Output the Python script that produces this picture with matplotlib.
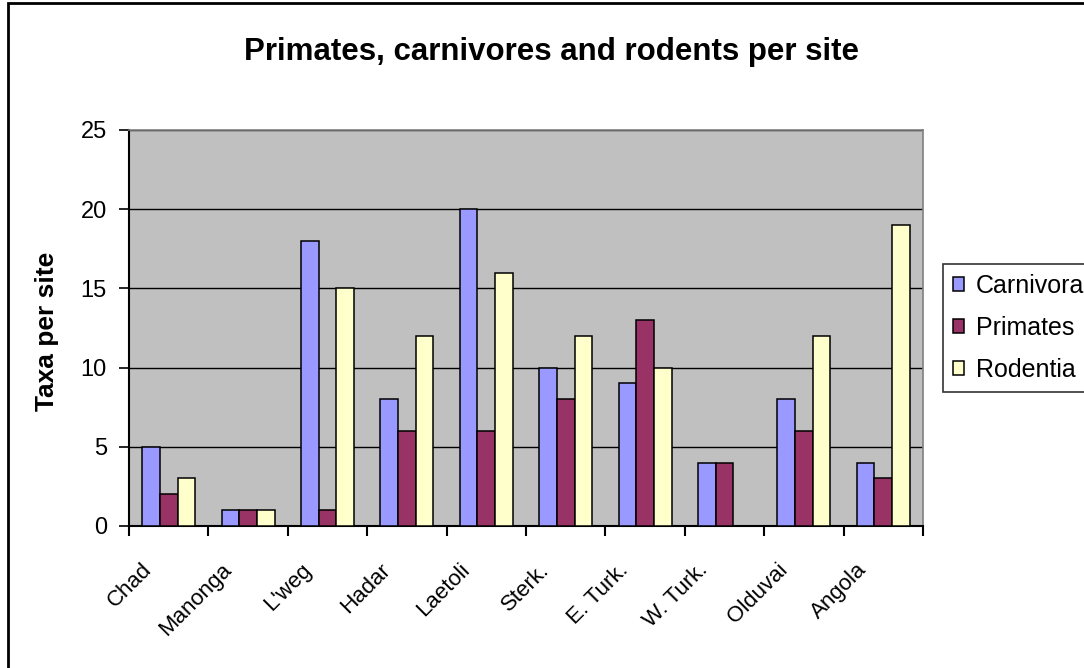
import matplotlib.pyplot as plt
import numpy as np
from matplotlib.patches import Rectangle
from matplotlib.ticker import MultipleLocator

''' ----- Taxa counts per fossil site ----- '''

sites = ['Chad', 'Manonga', "L'weg", 'Hadar', 'Laetoli', 'Sterk.',
         'E. Turk.', 'W. Turk.', 'Olduvai', 'Angola']
carnivora = [5, 1, 18, 8, 20, 10, 9, 4, 8, 4]
primates = [2, 1, 1, 6, 6, 8, 13, 4, 6, 3]
rodentia = [3, 1, 15, 12, 16, 12, 10, 0, 12, 19]

series = [('Carnivora', carnivora, '#9999FF'),
          ('Primates', primates, '#993366'),
          ('Rodentia', rodentia, '#FFFFCC')]

plt.rcParams['font.family'] = ['Liberation Sans', 'DejaVu Sans']

fig = plt.figure(figsize=(10.84, 6.68), dpi=100)
W, H = 1084, 668
ax = fig.add_axes([129 / W, 1 - 526 / H, (923 - 129) / W, (526 - 130) / H])
ax.set_facecolor('#C0C0C0')

x = np.arange(len(sites))
w = 1 / 4.5
handles = []
for k, (name, vals, col) in enumerate(series):
  b = ax.bar(x + (k - 1) * w, vals, w, color=col, edgecolor='black',
             linewidth=1.1, label=name, zorder=3)
  handles.append(b)

ax.set_xlim(-0.5, len(sites) - 0.5)
ax.set_ylim(0, 25)
ax.yaxis.set_major_locator(MultipleLocator(5))
ax.grid(axis='y', color='black', linewidth=1, zorder=1)
ax.set_axisbelow(True)

# category boundary ticks, labels sit under each group
ax.set_xticks(np.arange(-0.5, len(sites), 1.0), minor=True)
ax.set_xticks(x - 0.34)
ax.set_xticklabels(sites, rotation=45, ha='right', va='top',
                   rotation_mode='anchor', fontsize=16)
ax.tick_params(axis='x', which='major', length=0, pad=24)
ax.tick_params(axis='x', which='minor', length=7, width=1.5, color='black')
ax.tick_params(axis='y', length=7, width=1.2, pad=9, labelsize=17)

for s in ['top', 'right']:
  ax.spines[s].set_color('#808080')
  ax.spines[s].set_linewidth(1.2)
for s in ['left', 'bottom']:
  ax.spines[s].set_color('black')
  ax.spines[s].set_linewidth(1.5)

fig.text(552 / W, 1 - 60 / H, 'Primates, carnivores and rodents per site',
         ha='center', va='baseline', fontsize=22.5, fontweight='bold')
fig.text(47 / W, 1 - 331 / H, 'Taxa per site', rotation=90,
         ha='center', va='center', fontsize=19, fontweight='bold')

leg = fig.legend(handles=handles, loc='upper left',
                 bbox_to_anchor=(943 / W, 1 - 264 / H), fontsize=18,
                 frameon=True, fancybox=False, borderaxespad=0,
                 handlelength=0.45, handleheight=0.45, handletextpad=0.45,
                 labelspacing=0.72, borderpad=0.4)
leg.get_frame().set_edgecolor('black')
leg.get_frame().set_linewidth(1.2)

# chart border
fig.patches.append(Rectangle((8 / W, -0.1), 1.2, 1 - 3 / H + 0.1,
                             transform=fig.transFigure, fill=False,
                             edgecolor='black', linewidth=2))

plt.savefig('out.png', dpi=100)
